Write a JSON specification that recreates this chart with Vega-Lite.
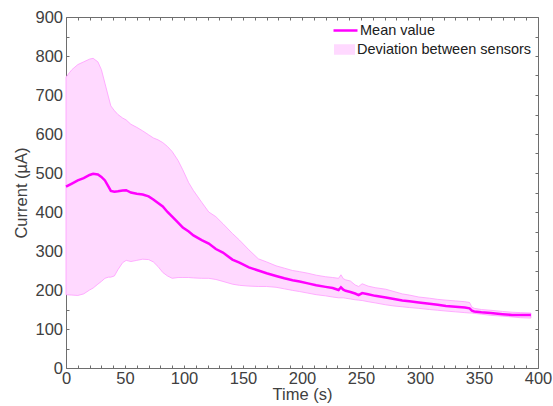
{
  "$schema": "https://vega.github.io/schema/vega-lite/v6.json",
  "width": 472,
  "height": 351,
  "autosize": {"type": "none"},
  "padding": {"left": 66, "top": 17, "right": 15, "bottom": 38},
  "background": "white",
  "config": {
    "font": "Liberation Sans",
    "view": {"stroke": "#6e6e6e", "strokeWidth": 1},
    "axis": {
      "grid": false,
      "domain": false,
      "labelFlush": false,
      "labelFont": "Liberation Sans",
      "labelFontSize": 16.5,
      "labelColor": "#404040",
      "titleFont": "Liberation Sans",
      "titleFontSize": 16.5,
      "titleFontWeight": "normal",
      "titleColor": "#404040"
    },
    "legend": {
      "labelFont": "Liberation Sans",
      "labelFontSize": 14.5,
      "labelColor": "#202020",
      "labelLimit": 0,
      "padding": 0
    }
  },
  "data": {
    "values": [
      {"t": 0, "lo": 188, "mean": 465, "hi": 746},
      {"t": 5, "lo": 187, "mean": 473, "hi": 765},
      {"t": 10, "lo": 186, "mean": 481, "hi": 778},
      {"t": 15, "lo": 190, "mean": 487, "hi": 785},
      {"t": 20, "lo": 200, "mean": 495, "hi": 792},
      {"t": 23, "lo": 205, "mean": 498, "hi": 794},
      {"t": 27, "lo": 215, "mean": 496, "hi": 785},
      {"t": 30, "lo": 222, "mean": 490, "hi": 765},
      {"t": 33, "lo": 230, "mean": 481, "hi": 730},
      {"t": 36, "lo": 233, "mean": 465, "hi": 695},
      {"t": 38, "lo": 233, "mean": 454, "hi": 672},
      {"t": 41, "lo": 236, "mean": 452, "hi": 660},
      {"t": 44, "lo": 252, "mean": 453, "hi": 650},
      {"t": 48, "lo": 270, "mean": 455, "hi": 641},
      {"t": 51, "lo": 276, "mean": 456, "hi": 636},
      {"t": 55, "lo": 273, "mean": 450, "hi": 625},
      {"t": 60, "lo": 276, "mean": 447, "hi": 617},
      {"t": 65, "lo": 279, "mean": 445, "hi": 608},
      {"t": 70, "lo": 278, "mean": 440, "hi": 598},
      {"t": 74, "lo": 272, "mean": 432, "hi": 590},
      {"t": 78, "lo": 260, "mean": 423, "hi": 585},
      {"t": 82, "lo": 245, "mean": 414, "hi": 578},
      {"t": 86, "lo": 236, "mean": 400, "hi": 568},
      {"t": 90, "lo": 230, "mean": 388, "hi": 555},
      {"t": 95, "lo": 232, "mean": 373, "hi": 532},
      {"t": 99, "lo": 232, "mean": 360, "hi": 508},
      {"t": 104, "lo": 232, "mean": 350, "hi": 475},
      {"t": 108, "lo": 231, "mean": 340, "hi": 455},
      {"t": 115, "lo": 230, "mean": 328, "hi": 425},
      {"t": 121, "lo": 230, "mean": 319, "hi": 400},
      {"t": 127, "lo": 227, "mean": 305, "hi": 388},
      {"t": 133, "lo": 222, "mean": 296, "hi": 370},
      {"t": 141, "lo": 215, "mean": 278, "hi": 345},
      {"t": 147, "lo": 212, "mean": 270, "hi": 328},
      {"t": 155, "lo": 210, "mean": 258, "hi": 303},
      {"t": 163, "lo": 209, "mean": 250, "hi": 280},
      {"t": 170, "lo": 209, "mean": 243, "hi": 272},
      {"t": 178, "lo": 207, "mean": 236, "hi": 262},
      {"t": 185, "lo": 203, "mean": 230, "hi": 256},
      {"t": 192, "lo": 199, "mean": 225, "hi": 250},
      {"t": 198, "lo": 196, "mean": 222, "hi": 247},
      {"t": 205, "lo": 192, "mean": 217, "hi": 243},
      {"t": 212, "lo": 188, "mean": 212, "hi": 238},
      {"t": 220, "lo": 185, "mean": 208, "hi": 234},
      {"t": 226, "lo": 182, "mean": 205, "hi": 232},
      {"t": 231, "lo": 180, "mean": 200, "hi": 230},
      {"t": 233, "lo": 180, "mean": 207, "hi": 239},
      {"t": 235, "lo": 180, "mean": 201, "hi": 229},
      {"t": 237, "lo": 179, "mean": 198, "hi": 226},
      {"t": 241, "lo": 177, "mean": 195, "hi": 223},
      {"t": 245, "lo": 175, "mean": 191, "hi": 213},
      {"t": 248, "lo": 174, "mean": 187, "hi": 209},
      {"t": 251, "lo": 173, "mean": 192, "hi": 216},
      {"t": 256, "lo": 170, "mean": 189, "hi": 210},
      {"t": 262, "lo": 167, "mean": 185, "hi": 206},
      {"t": 271, "lo": 162, "mean": 181, "hi": 202},
      {"t": 278, "lo": 159, "mean": 177, "hi": 196},
      {"t": 285, "lo": 157, "mean": 173, "hi": 190},
      {"t": 291, "lo": 155, "mean": 171, "hi": 187},
      {"t": 299, "lo": 153, "mean": 168, "hi": 182},
      {"t": 308, "lo": 150, "mean": 165, "hi": 179},
      {"t": 315, "lo": 148, "mean": 162, "hi": 176},
      {"t": 322, "lo": 146, "mean": 159, "hi": 174},
      {"t": 330, "lo": 144, "mean": 157, "hi": 172},
      {"t": 338, "lo": 142, "mean": 155, "hi": 170},
      {"t": 342, "lo": 141, "mean": 153, "hi": 168},
      {"t": 344, "lo": 141, "mean": 147, "hi": 156},
      {"t": 346, "lo": 140, "mean": 145, "hi": 153},
      {"t": 352, "lo": 138, "mean": 143, "hi": 150},
      {"t": 360, "lo": 135, "mean": 141, "hi": 148},
      {"t": 370, "lo": 133, "mean": 138, "hi": 145},
      {"t": 378, "lo": 131, "mean": 136, "hi": 143},
      {"t": 385, "lo": 129, "mean": 136, "hi": 142},
      {"t": 394, "lo": 128, "mean": 136, "hi": 141}
    ]
  },
  "layer": [
    {
      "mark": {"type": "area", "stroke": "#ff9cff", "strokeWidth": 0.8, "fillOpacity": 1},
      "encoding": {
        "x": {
          "field": "t", "type": "quantitative",
          "scale": {"domain": [0, 400], "nice": false},
          "axis": {
            "orient": "bottom",
            "title": "Time (s)",
            "values": [0,10,20,30,40,50,60,70,80,90,100,110,120,130,140,150,160,170,180,190,200,210,220,230,240,250,260,270,280,290,300,310,320,330,340,350,360,370,380,390,400],
            "labelExpr": "datum.value % 50 === 0 ? datum.label : ''",
            "ticks": true,
            "tickSize": -3,
            "tickWidth": 1,
            "tickColor": "#6e6e6e",
            "labelPadding": 5,
            "titlePadding": 0
          }
        },
        "y": {
          "field": "hi", "type": "quantitative",
          "scale": {"domain": [0, 900], "nice": false},
          "axis": {
            "orient": "left",
            "title": "Current (µA)",
            "values": [0,50,100,150,200,250,300,350,400,450,500,550,600,650,700,750,800,850,900],
            "labelExpr": "datum.value % 100 === 0 ? datum.label : ''",
            "ticks": true,
            "tickSize": -3,
            "tickWidth": 1,
            "tickColor": "#6e6e6e",
            "labelPadding": 6.5,
            "titlePadding": 5
          }
        },
        "y2": {"field": "lo"},
        "fill": {
          "datum": "Deviation between sensors",
          "scale": {"range": ["#ffd9ff"]},
          "legend": {
            "title": null,
            "orient": "none",
            "legendX": 268,
            "legendY": 22,
            "symbolType": "M-1,-0.5H1V0.5H-1Z",
            "symbolSize": 441,
            "symbolStrokeWidth": 0,
            "symbolOpacity": 1,
            "labelOffset": 2
          }
        }
      }
    },
    {
      "mark": {"type": "line", "strokeWidth": 2.5},
      "encoding": {
        "x": {"field": "t", "type": "quantitative", "axis": null},
        "y": {"field": "mean", "type": "quantitative", "axis": null},
        "stroke": {
          "datum": "Mean value",
          "scale": {"range": ["#ff00ff"]},
          "legend": {
            "title": null,
            "orient": "none",
            "legendX": 266,
            "legendY": 0,
            "symbolType": "stroke",
            "symbolSize": 576,
            "symbolStrokeWidth": 2.5,
            "labelOffset": 1
          }
        }
      }
    },
    {
      "mark": {"type": "line", "opacity": 0},
      "encoding": {
        "x": {
          "field": "t", "type": "quantitative",
          "axis": {
            "orient": "top",
            "title": null,
            "labels": false,
            "ticks": true,
            "tickSize": -3,
            "tickWidth": 1,
            "tickColor": "#6e6e6e",
            "values": [0,10,20,30,40,50,60,70,80,90,100,110,120,130,140,150,160,170,180,190,200,210,220,230,240,250,260,270,280,290,300,310,320,330,340,350,360,370,380,390,400]
          }
        },
        "y": {
          "field": "mean", "type": "quantitative",
          "axis": {
            "orient": "right",
            "title": null,
            "labels": false,
            "ticks": true,
            "tickSize": -3,
            "tickWidth": 1,
            "tickColor": "#6e6e6e",
            "values": [0,50,100,150,200,250,300,350,400,450,500,550,600,650,700,750,800,850,900]
          }
        }
      }
    }
  ],
  "resolve": {"axis": {"x": "independent", "y": "independent"}}
}
